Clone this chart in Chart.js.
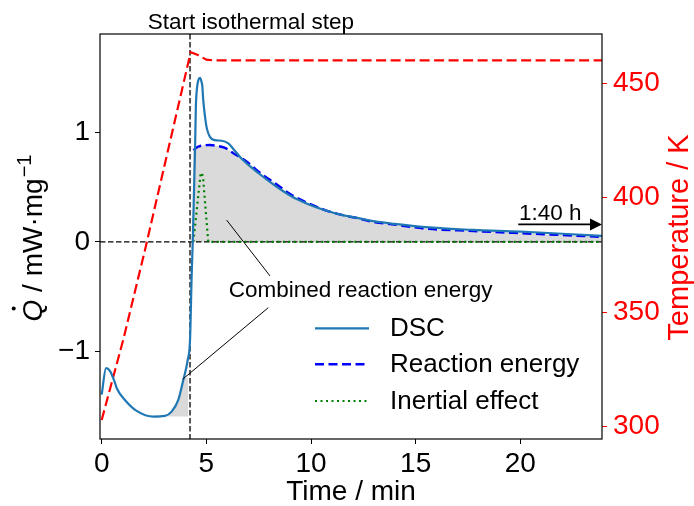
<!DOCTYPE html>
<html lang="en">
<head>
<meta charset="UTF-8" />
<title>DSC isothermal step</title>
<script src="https://cdn.jsdelivr.net/npm/chart.js"></script>
<style>
  html, body { margin: 0; padding: 0; background: #fff; }
</style>
</head>
<body>
<canvas id="dscChart" width="694" height="506"></canvas>
<script>
  // Data (time in min, heat flow in mW/mg, temperature in K)
  const dscTime = [0, 0.21, 0.40, 0.64, 0.72, 1.11, 1.67, 2.47, 3.02, 3.34, 3.66, 3.90, 4.11, 4.22, 4.30, 4.35,
    4.46, 4.50, 4.55, 4.62, 4.70, 4.76, 4.81, 4.85, 4.94, 5.02, 5.17, 5.41, 5.73, 6.05, 6.29, 6.69, 7.48, 8.28,
    9.08, 9.87, 10.67, 11.47, 12.26, 13.06, 13.86, 15.45, 17.75, 20.0, 22.0, 24.0];
  const dscQ = [-1.395, -1.153, -1.18, -1.289, -1.336, -1.443, -1.543, -1.595, -1.589, -1.55, -1.443, -1.26, -1.078, -0.895, -0.3, 0,
    0.84, 1.24, 1.40, 1.48, 1.50, 1.47, 1.42, 1.30, 1.14, 1.04, 0.96, 0.93, 0.925, 0.90, 0.85, 0.76, 0.63, 0.515,
    0.415, 0.345, 0.29, 0.247, 0.218, 0.188, 0.168, 0.135, 0.11, 0.095, 0.075, 0.055];

  const reactTime = [4.38, 4.6, 4.9, 5.17, 5.5, 5.89, 6.29, 6.69, 7.09, 7.48, 8.28, 9.08, 9.87, 10.67, 11.47, 12.26,
    13.06, 13.86, 15.45, 17.75, 20.0, 22.0, 24.0];
  const reactQ = [0.84, 0.87, 0.883, 0.886, 0.878, 0.86, 0.81, 0.765, 0.71, 0.645, 0.536, 0.429, 0.353, 0.292, 0.247, 0.216,
    0.18, 0.162, 0.122, 0.10, 0.08, 0.063, 0.046];

  const inertTime = [4.38, 4.73, 4.79, 4.85, 5.09, 24.0];
  const inertQ = [0, 0.63, 0.63, 0.57, 0, 0];

  const tempTime = [0, 1.03, 2.07, 3.1, 4.25, 4.6, 5.0, 5.3, 24.0];
  const tempK = [302.9, 337.9, 377.2, 418.0, 463.5, 462.3, 460.3, 460.0, 460.0];

  // grey area before the step, down to the DSC minimum
  const lowFillTime = [2.93, 3.02, 3.34, 3.66, 3.89, 4.14];
  const lowFillQ = [-1.592, -1.589, -1.55, -1.443, -1.24, -1.24];
  const lowFillBase = -1.595;

  const xTicks = [0, 5, 10, 15, 20];
  const qTicks = [-1, 0, 1];
  const tempTicks = [300, 350, 400, 450];
  const isoStart = 4.22;

  const FONT = "'Liberation Sans', Arial, Helvetica, sans-serif";
  Chart.defaults.font.family = FONT;

  const pts = (xs, ys) => xs.map((v, i) => ({ x: v, y: ys[i] }));
  const minus = v => String(v).replace('-', '\u2212');

  // grey reaction area: the DSC rise, then under the reaction curve
  const upperFill = pts([4.35].concat(reactTime), [0].concat(reactQ));

  function drawGuides(chart) {
    const { ctx, chartArea: a, scales: { x, y } } = chart;
    ctx.save();
    ctx.beginPath();
    ctx.rect(a.left, a.top, a.right - a.left, a.bottom - a.top);
    ctx.clip();
    ctx.strokeStyle = '#000';
    ctx.lineWidth = 1.3;
    ctx.setLineDash([5.5, 2.5]);
    const y0 = y.getPixelForValue(0);
    ctx.beginPath(); ctx.moveTo(a.left, y0); ctx.lineTo(a.right, y0); ctx.stroke();
    const xs = x.getPixelForValue(isoStart);
    ctx.beginPath(); ctx.moveTo(xs, a.top); ctx.lineTo(xs, a.bottom); ctx.stroke();
    ctx.restore();
  }

  const overlay = {
    id: 'overlay',
    afterDatasetDraw(chart, args) {
      if (args.index === 4) drawGuides(chart);
    },
    afterDraw(chart) {
      const { ctx, chartArea: a, scales: { x, y } } = chart;
      const px = t => x.getPixelForValue(t);
      const py = q => y.getPixelForValue(q);
      ctx.save();

      // frame
      ctx.strokeStyle = '#000';
      ctx.lineWidth = 1.2;
      ctx.strokeRect(a.left, a.top, a.right - a.left, a.bottom - a.top);

      // annotations
      ctx.fillStyle = '#000';
      ctx.font = '22.5px ' + FONT;
      ctx.textAlign = 'center';
      ctx.textBaseline = 'alphabetic';
      ctx.fillText('Start isothermal step', px(7.13), py(1.95));
      ctx.fillText('Combined reaction energy', px(12.37), py(-0.50));
      ctx.fillText('1:40 h', px(21.43), py(0.20));

      ctx.lineWidth = 1;
      ctx.beginPath();
      ctx.moveTo(px(5.97), py(0.20)); ctx.lineTo(px(8.04), py(-0.31));
      ctx.moveTo(px(7.96), py(-0.60)); ctx.lineTo(px(3.87), py(-1.254));
      ctx.stroke();

      // 1:40 h arrow to the right edge
      const ay = py(0.16);
      ctx.lineWidth = 1.8;
      ctx.beginPath(); ctx.moveTo(px(19.9), ay); ctx.lineTo(a.right - 10, ay); ctx.stroke();
      ctx.beginPath();
      ctx.moveTo(a.right, ay); ctx.lineTo(a.right - 12, ay - 6); ctx.lineTo(a.right - 12, ay + 6);
      ctx.closePath(); ctx.fill();

      // legend
      const rows = [328.3, 364.3, 401];
      ctx.font = '26px ' + FONT;
      ctx.textAlign = 'left';
      ctx.textBaseline = 'middle';
      rows.forEach((ry, i) => {
        const ds = chart.data.datasets[i];
        ctx.save();
        ctx.strokeStyle = ds.borderColor;
        ctx.lineWidth = ds.borderWidth;
        ctx.setLineDash(ds.borderDash || []);
        ctx.beginPath(); ctx.moveTo(315, ry); ctx.lineTo(369, ry); ctx.stroke();
        ctx.restore();
        ctx.fillStyle = '#000';
        ctx.fillText(ds.label, 390, ry + 1);
      });

      // left axis title: Q-dot / mW·mg^-1
      ctx.save();
      ctx.translate(41.7, (a.top + a.bottom) / 2 + 1.5);
      ctx.rotate(-Math.PI / 2);
      ctx.textBaseline = 'alphabetic';
      ctx.textAlign = 'left';
      ctx.fillStyle = '#000';
      ctx.font = 'italic 28px ' + FONT;
      const wQ = ctx.measureText('Q').width;
      ctx.font = '28px ' + FONT;
      const mid = ' / mW\u00b7mg';
      const wMid = ctx.measureText(mid).width;
      ctx.font = '20px ' + FONT;
      const wSup = ctx.measureText('\u22121').width;
      let lx = -(wQ + wMid + wSup + 1) / 2;
      ctx.font = 'italic 28px ' + FONT;
      ctx.fillText('Q', lx, 0);
      ctx.beginPath(); ctx.arc(lx + wQ * 0.6, -28, 2, 0, Math.PI * 2); ctx.fill();
      lx += wQ;
      ctx.font = '28px ' + FONT;
      ctx.fillText(mid, lx, 0);
      lx += wMid + 1;
      ctx.font = '20px ' + FONT;
      ctx.fillText('\u22121', lx, -11);
      ctx.restore();

      // right axis title
      ctx.save();
      ctx.translate(688, (a.top + a.bottom) / 2 + 1);
      ctx.rotate(-Math.PI / 2);
      ctx.textAlign = 'center';
      ctx.textBaseline = 'alphabetic';
      ctx.fillStyle = 'red';
      ctx.font = '29px ' + FONT;
      ctx.fillText('Temperature / K', 0, 0);
      ctx.restore();

      ctx.restore();
    }
  };

  const ctx = document.getElementById('dscChart').getContext('2d');
  const dscChart = new Chart(ctx, {
    type: 'line',
    data: {
      datasets: [
        {
          label: 'DSC',
          data: pts(dscTime, dscQ),
          borderColor: '#1f77b4',
          borderWidth: 2.2,
          pointRadius: 0,
          cubicInterpolationMode: 'monotone',
          fill: false,
          yAxisID: 'y'
        },
        {
          label: 'Reaction energy',
          data: pts(reactTime, reactQ),
          borderColor: '#0000ff',
          borderWidth: 2.4,
          borderDash: [9, 4.5],
          pointRadius: 0,
          cubicInterpolationMode: 'monotone',
          fill: false,
          yAxisID: 'y'
        },
        {
          label: 'Inertial effect',
          data: pts(inertTime, inertQ),
          borderColor: '#008000',
          borderWidth: 2.2,
          borderDash: [2, 3.5],
          pointRadius: 0,
          fill: false,
          yAxisID: 'y'
        },
        {
          label: 'Temperature',
          data: pts(tempTime, tempK),
          borderColor: '#ff0000',
          borderWidth: 2.2,
          borderDash: [10, 4.5],
          pointRadius: 0,
          fill: false,
          yAxisID: 'y2'
        },
        {
          label: 'area',
          data: upperFill,
          borderWidth: 0,
          borderColor: 'rgba(0,0,0,0)',
          backgroundColor: '#dadada',
          pointRadius: 0,
          cubicInterpolationMode: 'monotone',
          fill: { value: 0 },
          yAxisID: 'y'
        },
        {
          label: 'area low',
          data: pts(lowFillTime, lowFillQ),
          borderWidth: 0,
          borderColor: 'rgba(0,0,0,0)',
          backgroundColor: '#dadada',
          pointRadius: 0,
          fill: { value: lowFillBase },
          yAxisID: 'y'
        }
      ]
    },
    options: {
      responsive: false,
      animation: false,
      devicePixelRatio: 1,
      layout: { padding: { top: 34, left: 0, right: 0, bottom: 0 } },
      plugins: {
        legend: { display: false },
        tooltip: { enabled: false }
      },
      scales: {
        x: {
          type: 'linear',
          min: -0.08,
          max: 23.9,
          afterBuildTicks: s => { s.ticks = xTicks.map(v => ({ value: v })); },
          afterFit: s => { s.height = 67; },
          ticks: { color: '#000', font: { size: 28 }, padding: 3, maxRotation: 0, autoSkip: false },
          grid: { drawOnChartArea: false, drawTicks: true, tickLength: 5, color: '#000' },
          border: { display: false },
          title: { display: true, text: 'Time / min', color: '#000', font: { size: 28, lineHeight: 1 }, padding: { top: 0, bottom: 0 } }
        },
        y: {
          position: 'left',
          min: -1.8,
          max: 1.9,
          afterBuildTicks: s => { s.ticks = qTicks.map(v => ({ value: v })); },
          afterFit: s => { s.width = 100; },
          ticks: { color: '#000', font: { size: 28 }, padding: 5, callback: v => minus(v) },
          grid: { drawOnChartArea: false, drawTicks: true, tickLength: 5, color: '#000' },
          border: { display: false }
        },
        y2: {
          position: 'right',
          min: 294.6,
          max: 471.5,
          afterBuildTicks: s => { s.ticks = tempTicks.map(v => ({ value: v })); },
          afterFit: s => { s.width = 92; },
          ticks: { color: 'red', font: { size: 28 }, padding: 6 },
          grid: { drawOnChartArea: false, drawTicks: true, tickLength: 5, color: 'red' },
          border: { display: false }
        }
      }
    },
    plugins: [overlay]
  });
</script>
</body>
</html>
